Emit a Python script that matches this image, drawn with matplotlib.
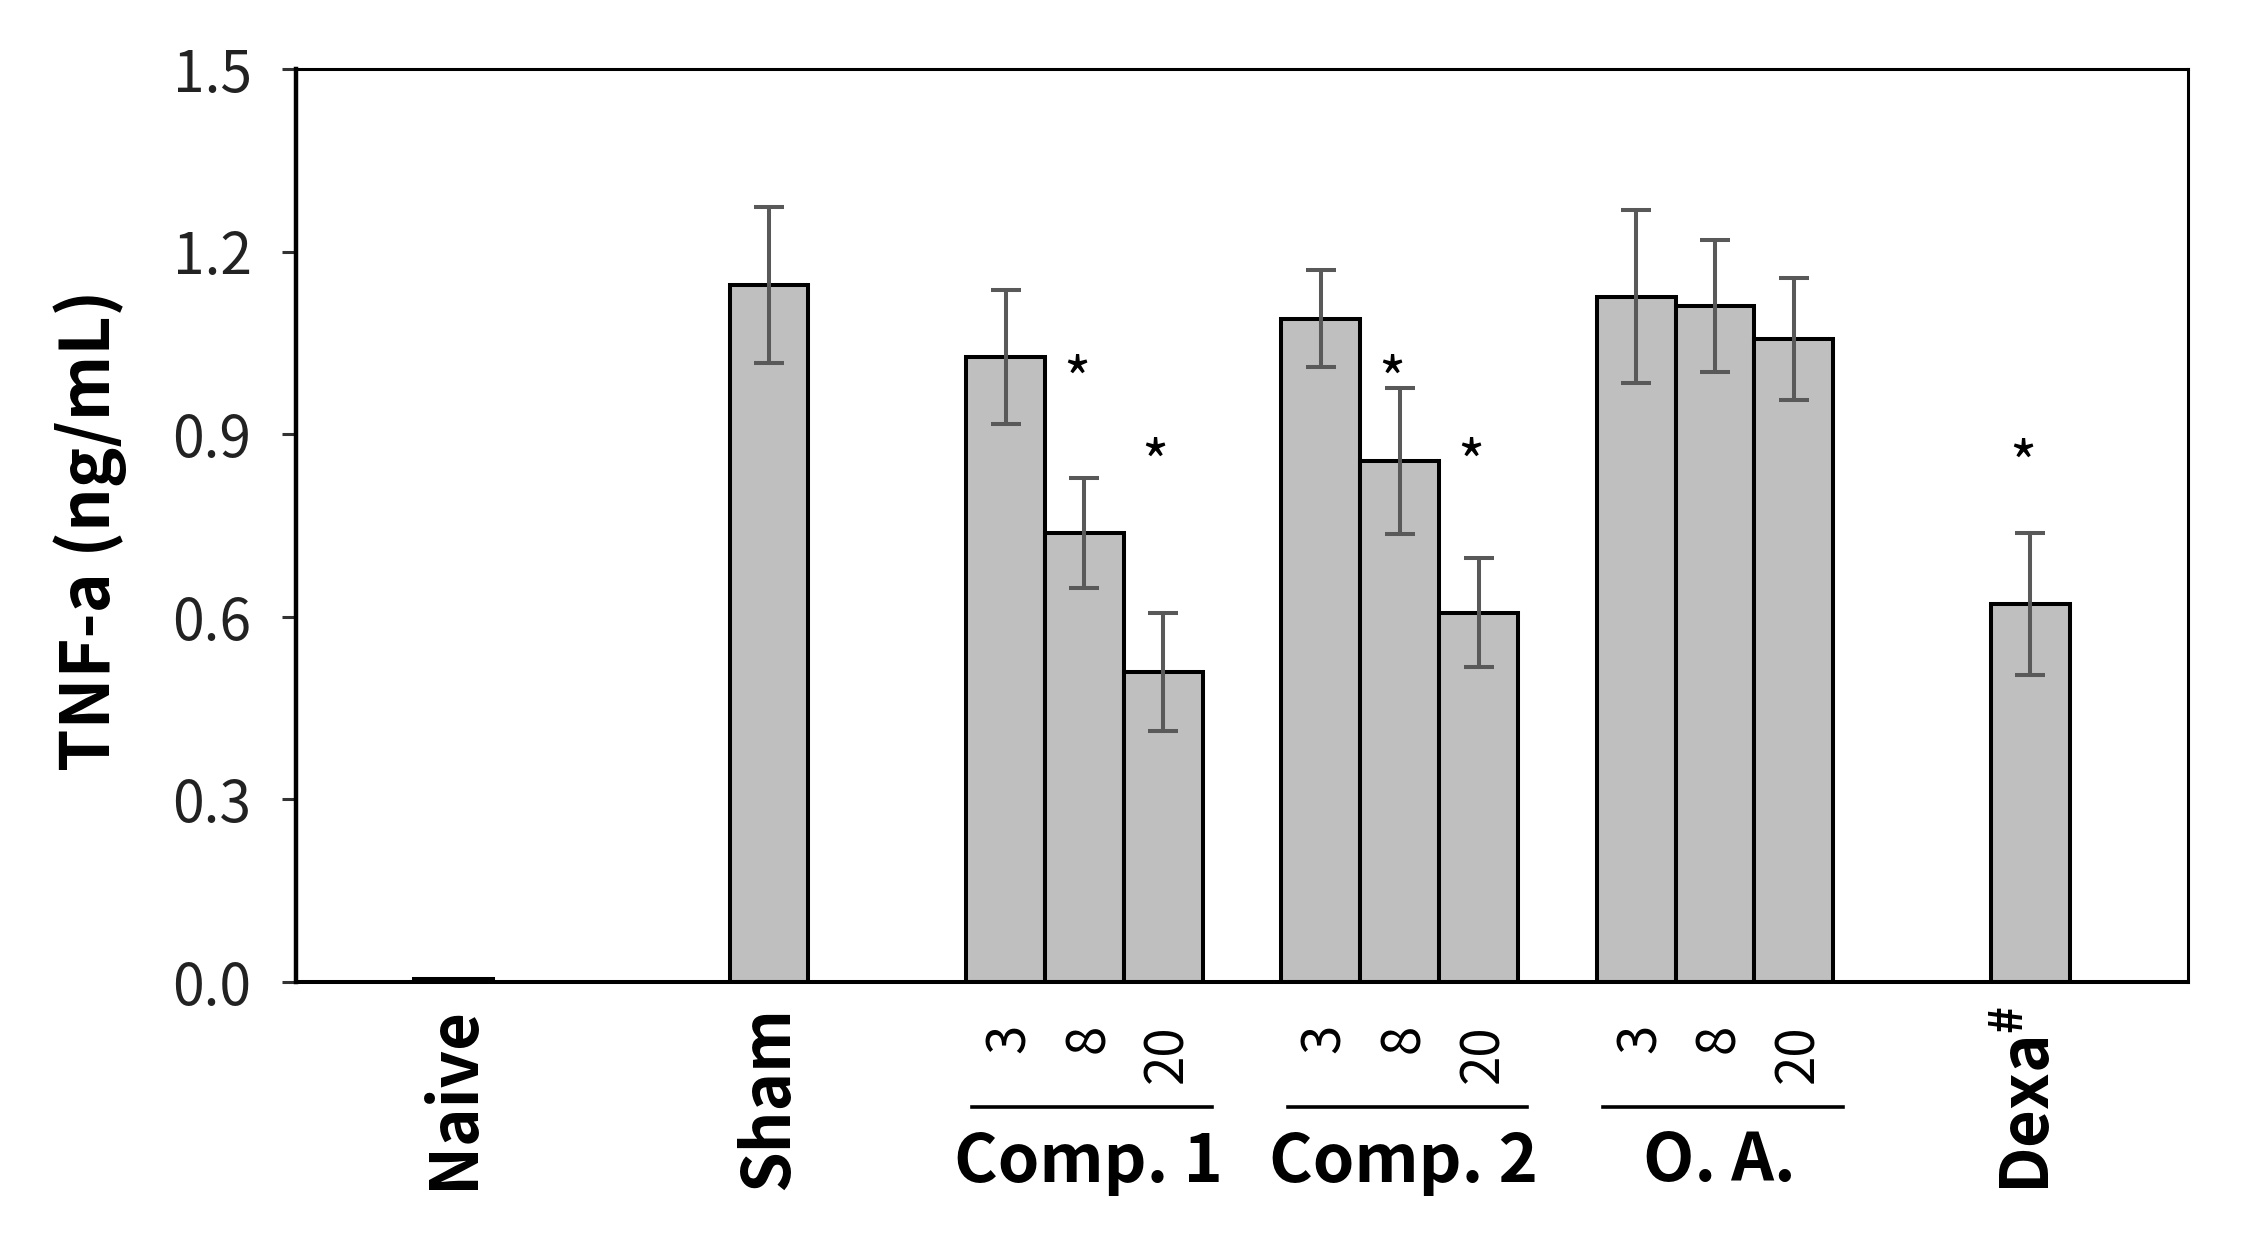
import matplotlib
matplotlib.use("Agg")
import matplotlib.pyplot as plt

plt.rcParams['font.family'] = ['Noto Sans CJK KR', 'DejaVu Sans']
plt.rcParams['mathtext.default'] = 'regular'

# ---- data ----
single_labels = ["Naive", "Sham", "Dexa$^{\\#}$"]
group_labels = ["Comp. 1", "Comp. 2", "O. A."]
dose_labels = ["3", "8", "20"]
bar_ids = ["Naive", "Sham",
           "C1-3", "C1-8", "C1-20",
           "C2-3", "C2-8", "C2-20",
           "OA-3", "OA-8", "OA-20",
           "Dexa"]
means = [0.005, 1.145, 1.027, 0.738, 0.510, 1.090, 0.856, 0.607,
         1.126, 1.111, 1.057, 0.621]
errors = [0.0, 0.128, 0.110, 0.090, 0.097, 0.079, 0.120, 0.090,
          0.142, 0.108, 0.100, 0.117]
star_bars = ["C1-8", "C1-20", "C2-8", "C2-20", "Dexa"]
star_y = [1.017, 0.881, 1.017, 0.881, 0.879]
yticks = [0.0, 0.3, 0.6, 0.9, 1.2, 1.5]
ytick_labels = ["0.0", "0.3", "0.6", "0.9", "1.2", "1.5"]

# slot positions along x
positions = [2, 6, 9, 10, 11, 13, 14, 15, 17, 18, 19, 22]
pos = dict(zip(bar_ids, positions))

fig = plt.figure(figsize=(22.44, 12.51), dpi=100)
ax = fig.add_axes([296/2244, 1-982/1251, (2188-296)/2244, (982-69)/1251])

ax.bar(positions, means, width=1.0, color="#bfbfbf", edgecolor="black",
       linewidth=2.9, zorder=2)
ax.errorbar(positions[1:], means[1:], yerr=errors[1:], fmt="none",
            ecolor="#595959", elinewidth=2.9, capsize=10.5, capthick=2.9,
            zorder=3)

for b, sy in zip(star_bars, star_y):
    ax.text(pos[b] - 0.1, sy - 0.035, "*", ha="center", va="center",
            fontsize=42, color="black", zorder=4)

ax.set_xlim(0, 24)
ax.set_ylim(0, 1.5)
ax.set_yticks(yticks)
ax.set_yticklabels(ytick_labels, fontsize=41, color="#222222")
ax.tick_params(axis="y", direction="out", length=10, width=2.2,
               color="#333333", pad=22)
ax.set_xticks([])
for side, lw in zip(["left", "bottom", "top", "right"], [3.2, 2.9, 2.2, 2.2]):
    ax.spines[side].set_linewidth(lw)
    ax.spines[side].set_color("black")

# y label
fig.text(90/2244, 1-530/1251, "TNF-a (ng/mL)", rotation=90, ha="center",
         va="center", fontsize=49, fontweight="bold")

# x-axis labels (below axes), use blended transform: x data, y figure
trans = matplotlib.transforms.blended_transform_factory(ax.transData, fig.transFigure)

top_big = 1 - 1006/1251
for name, bid in zip(single_labels, ["Naive", "Sham", "Dexa"]):
    ax.text(pos[bid], top_big, name, rotation=90, ha="center", va="top",
            fontsize=47, fontweight="bold", transform=trans)

groups = [["C1-3", "C1-8", "C1-20"], ["C2-3", "C2-8", "C2-20"],
          ["OA-3", "OA-8", "OA-20"]]
dose_top = 1 - 1024/1251
line_y = 1 - 1107/1251
glabel_y = 1 - 1162/1251
for gname, members in zip(group_labels, groups):
    for d, m in zip(dose_labels, members):
        ax.text(pos[m] + 0.05, dose_top, d, rotation=90, ha="center",
                va="top", fontsize=38, transform=trans)
    x0 = pos[members[0]] - 0.42
    x1 = pos[members[-1]] + 0.62
    ax.plot([x0, x1], [line_y, line_y], color="black", lw=2.6,
            transform=trans, clip_on=False)
    ax.text(pos[members[1]] + 0.05, glabel_y, gname, ha="center",
            va="center", fontsize=48, fontweight="bold", transform=trans)

fig.savefig("out.png", dpi=100)
